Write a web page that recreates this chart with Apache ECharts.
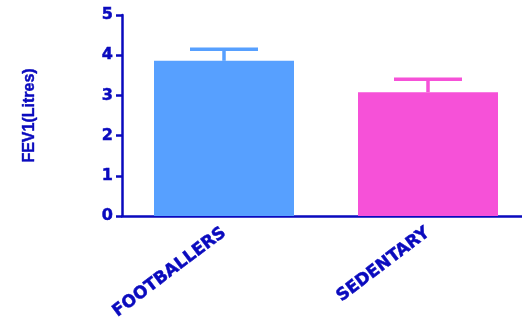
<!DOCTYPE html>
<html>
<head>
<meta charset="utf-8">
<script src="https://cdn.jsdelivr.net/npm/echarts@6/dist/echarts.min.js"></script>
<style>
html,body{margin:0;padding:0;background:#fff;}
#chart{width:522px;height:321px;}
</style>
</head>
<body>
<div id="chart"></div>
<script>
// Groups, mean FEV1 and error bar extent (litres)
var groups = ['FOOTBALLERS', 'SEDENTARY'];
var meanFev1 = [3.86, 3.08];
var errFev1 = [0.29, 0.32];
var barColors = ['#57A0FF', '#F651D8'];
var yTicks = [0, 1, 2, 3, 4, 5];

var axisColor = '#0A0ABE';
var fontFam = '"DejaVu Sans", sans-serif';
var heavy = { textBorderColor: axisColor, textBorderWidth: 0.5 };

var chart = echarts.init(document.getElementById('chart'));
chart.setOption({
  animation: false,
  grid: { left: 122, top: 15, width: 408, height: 201, outerBoundsMode: 'none', containLabel: false },
  xAxis: {
    type: 'category',
    data: groups,
    axisLine: { lineStyle: { color: axisColor, width: 2.5 } },
    axisTick: { alignWithLabel: true, length: 6, lineStyle: { color: axisColor, width: 2.5 } },
    axisLabel: Object.assign({
      rotate: 37, color: axisColor, fontWeight: 'bold', fontSize: 17,
      fontFamily: fontFam, margin: 15
    }, heavy)
  },
  yAxis: {
    type: 'value',
    min: yTicks[0], max: yTicks[yTicks.length - 1], interval: 1,
    name: 'FEV1(Litres)',
    nameLocation: 'middle',
    nameGap: 84,
    nameTextStyle: {
      color: axisColor, fontWeight: 'bold', fontSize: 16,
      fontFamily: '"Liberation Sans", Arial, sans-serif',
      textBorderColor: axisColor, textBorderWidth: 0.4
    },
    splitLine: { show: false },
    axisLine: { show: true, lineStyle: { color: axisColor, width: 2.5 } },
    axisTick: { show: true, length: 6, lineStyle: { color: axisColor, width: 2.5 } },
    axisLabel: Object.assign({
      color: axisColor, fontWeight: 'bold', fontSize: 16, fontFamily: fontFam, margin: 9
    }, heavy)
  },
  series: [
    {
      type: 'bar',
      barWidth: 140,
      data: meanFev1.map(function (v, i) {
        return { value: v, itemStyle: { color: barColors[i] } };
      }),
      z: 2
    },
    {
      type: 'custom',
      z: 1,
      data: meanFev1.map(function (v, i) { return [i, v, v + errFev1[i]]; }),
      renderItem: function (params, api) {
        var i = api.value(0);
        var base = api.coord([i, api.value(1)]);
        var top = api.coord([i, api.value(2)]);
        var half = 34;
        var col = barColors[i];
        return {
          type: 'group',
          children: [
            { type: 'line', shape: { x1: base[0], y1: base[1], x2: top[0], y2: top[1] },
              style: { stroke: col, lineWidth: 3.5 } },
            { type: 'line', shape: { x1: top[0] - half, y1: top[1], x2: top[0] + half, y2: top[1] },
              style: { stroke: col, lineWidth: 3.5 } }
          ]
        };
      }
    }
  ]
});
</script>
</body>
</html>
